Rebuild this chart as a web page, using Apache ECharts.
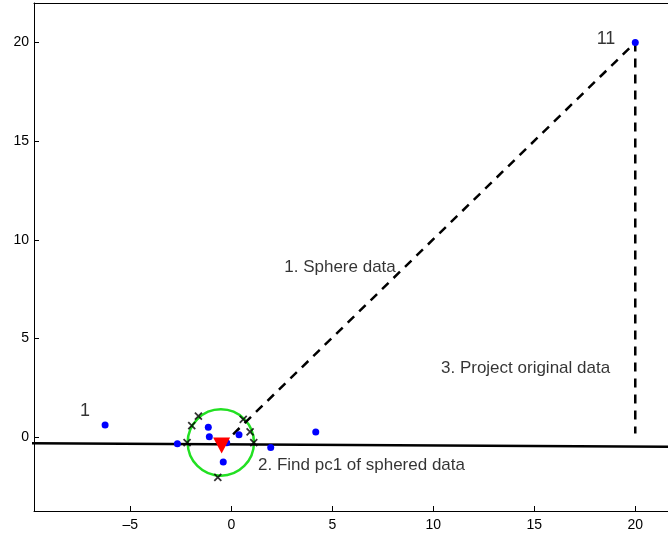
<!DOCTYPE html>
<html><head><meta charset="utf-8">
<script src="https://cdn.jsdelivr.net/npm/echarts@6/dist/echarts.min.js"></script>
<style>html,body{margin:0;padding:0;background:#fff}#c{width:668px;height:534px}</style>
</head><body><div id="c"></div>
<script>
// ---- data ----
const pointsX = [-6.25, -2.67, -1.14, -1.09, -0.23, 0.38, -0.40, 1.95, 4.18, 20];
const pointsY = [0.62, -0.32, 0.51, 0.03, -0.27, 0.13, -1.25, -0.51, 0.27, 20];
const crossX = [-1.63, -1.96, -2.19, 0.59, 0.93, 1.11, -0.67];
const crossY = [1.08, 0.59, -0.27, 0.91, 0.28, -0.27, -2.03];
const meanPoint = [-0.48, -0.41];
const circleCenter = [-0.52, -0.26];
const circleRadius = 1.66;
const pcLineX = [-10.01, 22];
const pcLineY = [-0.30, -0.48];
const sphereLineX = [meanPoint[0], 20];
const sphereLineY = [meanPoint[1], 20];
const projLineX = [20, 20];
const projLineY = [20, 0.2];
const labelTexts = ['1', '11', '1. Sphere data', '2. Find pc1 of sphered data', '3. Project original data'];
const labelX = [-7.25, 18.55, 2.62, 1.32, 10.38];
const labelY = [1.34, 20.17, 8.6, -1.41, 3.52];
const labelAlign = ['center', 'center', 'left', 'left', 'left'];
const labelSize = [18, 18, 17, 17, 17];
const xTicks = [-5, 0, 5, 10, 15, 20];
const yTicks = [0, 5, 10, 15, 20];

const FONT = '"Liberation Sans", Arial, sans-serif';
const chart = echarts.init(document.getElementById('c'), null, {renderer: 'canvas'});
const zip = (a, b) => a.map((v, i) => [v, b[i]]);
const fmt = v => String(v).replace('-', '\u2013');

chart.setOption({
  animation: false,
  grid: {left: 34, top: 3, right: 0, bottom: 23, show: false},
  xAxis: [{
    type: 'value', min: -9.77, max: 21.62, position: 'bottom',
    splitLine: {show: false},
    axisLine: {onZero: false, lineStyle: {color: '#000', width: 1}},
    axisTick: {inside: true, length: 5, customValues: xTicks, lineStyle: {color: '#000'}},
    axisLabel: {customValues: xTicks, formatter: fmt, color: '#000', fontFamily: FONT, fontSize: 14, margin: 7}
  }, {
    type: 'value', min: -9.77, max: 21.62, position: 'top',
    splitLine: {show: false},
    axisLine: {onZero: false, lineStyle: {color: '#000', width: 1}},
    axisTick: {show: false}, axisLabel: {show: false}
  }],
  yAxis: {
    type: 'value', min: -3.73, max: 22,
    splitLine: {show: false},
    axisLine: {onZero: false, lineStyle: {color: '#000', width: 1}},
    axisTick: {inside: true, length: 5, customValues: yTicks, lineStyle: {color: '#000'}},
    axisLabel: {customValues: yTicks, formatter: fmt, color: '#000', fontFamily: FONT, fontSize: 14, margin: 5}
  },
  series: [
    {
      type: 'custom', z: 2,
      data: [[circleCenter[0], circleCenter[1], circleRadius]],
      renderItem: function (params, api) {
        const c = api.coord([api.value(0), api.value(1)]);
        const s = api.size([api.value(2), api.value(2)]);
        return {type: 'circle', shape: {cx: c[0], cy: c[1], r: (s[0] + s[1]) / 2},
          style: {fill: 'none', stroke: '#22e022', lineWidth: 2.5}};
      }
    },
    {
      type: 'line', z: 3, data: zip(pcLineX, pcLineY), symbol: 'none', clip: false,
      lineStyle: {color: '#000', width: 2.5}
    },
    {
      type: 'line', z: 3, data: zip(sphereLineX, sphereLineY), symbol: 'none',
      lineStyle: {color: '#000', width: 2.5, type: [9, 7]}
    },
    {
      type: 'line', z: 3, data: zip(projLineX, projLineY), symbol: 'none',
      lineStyle: {color: '#000', width: 2.5, type: [9, 7]}
    },
    {
      type: 'scatter', z: 4, data: zip(pointsX, pointsY), symbol: 'circle', symbolSize: 7,
      itemStyle: {color: '#0000ff', opacity: 1}
    },
    {
      type: 'scatter', z: 5, data: zip(crossX, crossY), symbol: 'path://M0,0L10,10M10,0L0,10', symbolSize: 7,
      itemStyle: {color: 'none', borderColor: '#000', borderWidth: 1.8}
    },
    {
      type: 'scatter', z: 6, data: [meanPoint], symbol: 'triangle', symbolRotate: 180, symbolSize: [17, 16],
      itemStyle: {color: '#ff0000', opacity: 1}
    },
    {
      type: 'scatter', z: 7, symbolSize: 0, silent: true,
      data: labelTexts.map((t, i) => ({value: [labelX[i], labelY[i]], name: t,
        label: {align: labelAlign[i], fontSize: labelSize[i]}})),
      label: {show: true, position: 'inside', formatter: p => p.name, color: '#000',
        fontFamily: FONT}
    }
  ]
});
</script></body></html>
